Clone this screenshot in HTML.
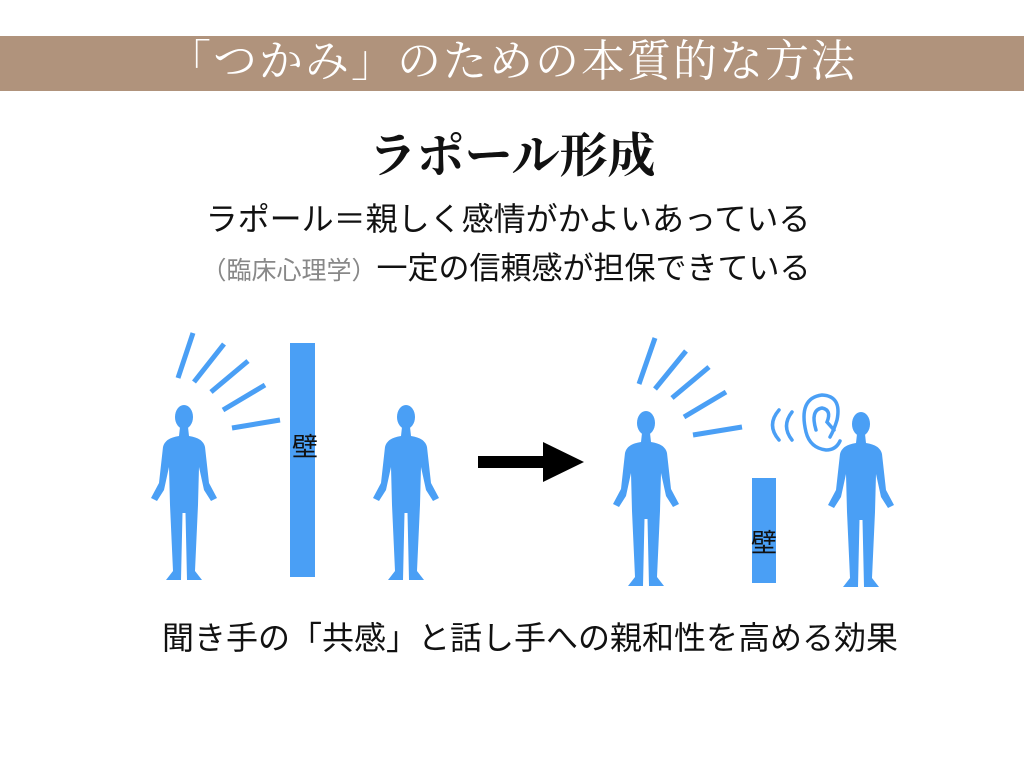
<!DOCTYPE html>
<html><head><meta charset="utf-8"><style>
body{margin:0;width:1024px;height:768px;background:#fff;position:relative;overflow:hidden;font-family:"Liberation Sans","Noto Sans CJK JP",sans-serif}
.band{position:absolute;left:0;top:36px;width:1024px;height:55px;background:#b0937c}
.t{position:absolute;left:0;width:1024px;text-align:center;white-space:nowrap;line-height:1.2}
</style></head><body>
<div class="band"></div>
<div class="t" style="top:36px;font-size:44px;color:#fff;font-family:'Liberation Serif','Noto Serif CJK SC',serif;letter-spacing:2px">「つかみ」のための本質的な方法</div>
<div class="t" style="top:128px;font-size:48px;font-weight:bold;color:#111;font-family:'Liberation Serif','Noto Serif CJK SC',serif">ラポール形成</div>
<div class="t" style="top:200px;left:-4px;font-size:32px;color:#111">ラポール＝親しく感情がかよいあっている</div>
<div class="t" style="top:250px;left:-6px;font-size:31px;color:#111"><span style="font-size:25px;color:#888">（臨床心理学）</span>一定の信頼感が担保できている</div>
<div class="t" style="top:619px;left:18px;font-size:32px;color:#111">聞き手の「共感」と話し手への親和性を高める効果</div>
<svg width="1024" height="768" style="position:absolute;left:0;top:0">
<defs>
<g id="p" fill="#4a9ff5">
<ellipse cx="34" cy="12" rx="9" ry="12"/>
<path d="M30,22 L38,22 L39,31 Q53,33 55,42 L59,78 L67,93 L61,96 L54,85 L49,62 L48,100 L45,166 L52,175 L37,175 L35.5,108 L32.5,108 L31,175 L16,175 L23,166 L20,100 L19,62 L14,85 L7,96 L1,93 L9,78 L13,42 Q15,33 29,31 Z"/>
</g>
</defs>
<use href="#p" x="150" y="405"/>
<use href="#p" x="372" y="405"/>
<use href="#p" x="612" y="411"/>
<use href="#p" x="827" y="412"/>
<g stroke="#4a9ff5" stroke-width="5">
<line x1="193" y1="333" x2="178" y2="378"/><line x1="224" y1="344" x2="194" y2="382"/><line x1="248" y1="361" x2="211" y2="392"/><line x1="265" y1="385" x2="223" y2="410"/><line x1="280" y1="420" x2="232" y2="428"/>
<line x1="655" y1="338" x2="639" y2="384"/><line x1="686" y1="351" x2="655" y2="389"/><line x1="709" y1="367" x2="672" y2="398"/><line x1="726" y1="392" x2="684" y2="417"/><line x1="742" y1="427" x2="693" y2="435"/>
</g>
<rect x="290" y="343" width="25" height="234" fill="#4a9ff5"/>
<rect x="752" y="478" width="24" height="105" fill="#4a9ff5"/>
<text x="292" y="456" font-size="26" fill="#111" font-family="Noto Sans CJK JP">壁</text>
<text x="751" y="552" font-size="26" fill="#111" font-family="Noto Sans CJK JP">壁</text>
<rect x="478" y="456" width="68" height="12" fill="#000"/>
<polygon points="543,442 584,462 543,482" fill="#000"/>
<g fill="none" stroke="#4a9ff5" stroke-width="3.5" stroke-linecap="round">
<path d="M779,410 Q766,425 779,440"/>
<path d="M792,412 Q781,426 792,440"/>
<path d="M806,432 Q798,398 822,395 Q842,396 837,420 Q834,430 830,437 M816,430 Q810,410 822,408 Q832,410 827,422 L834,430 M806,432 Q810,448 826,450 Q836,450 840,441"/>
</g>
</svg>
</body></html>
